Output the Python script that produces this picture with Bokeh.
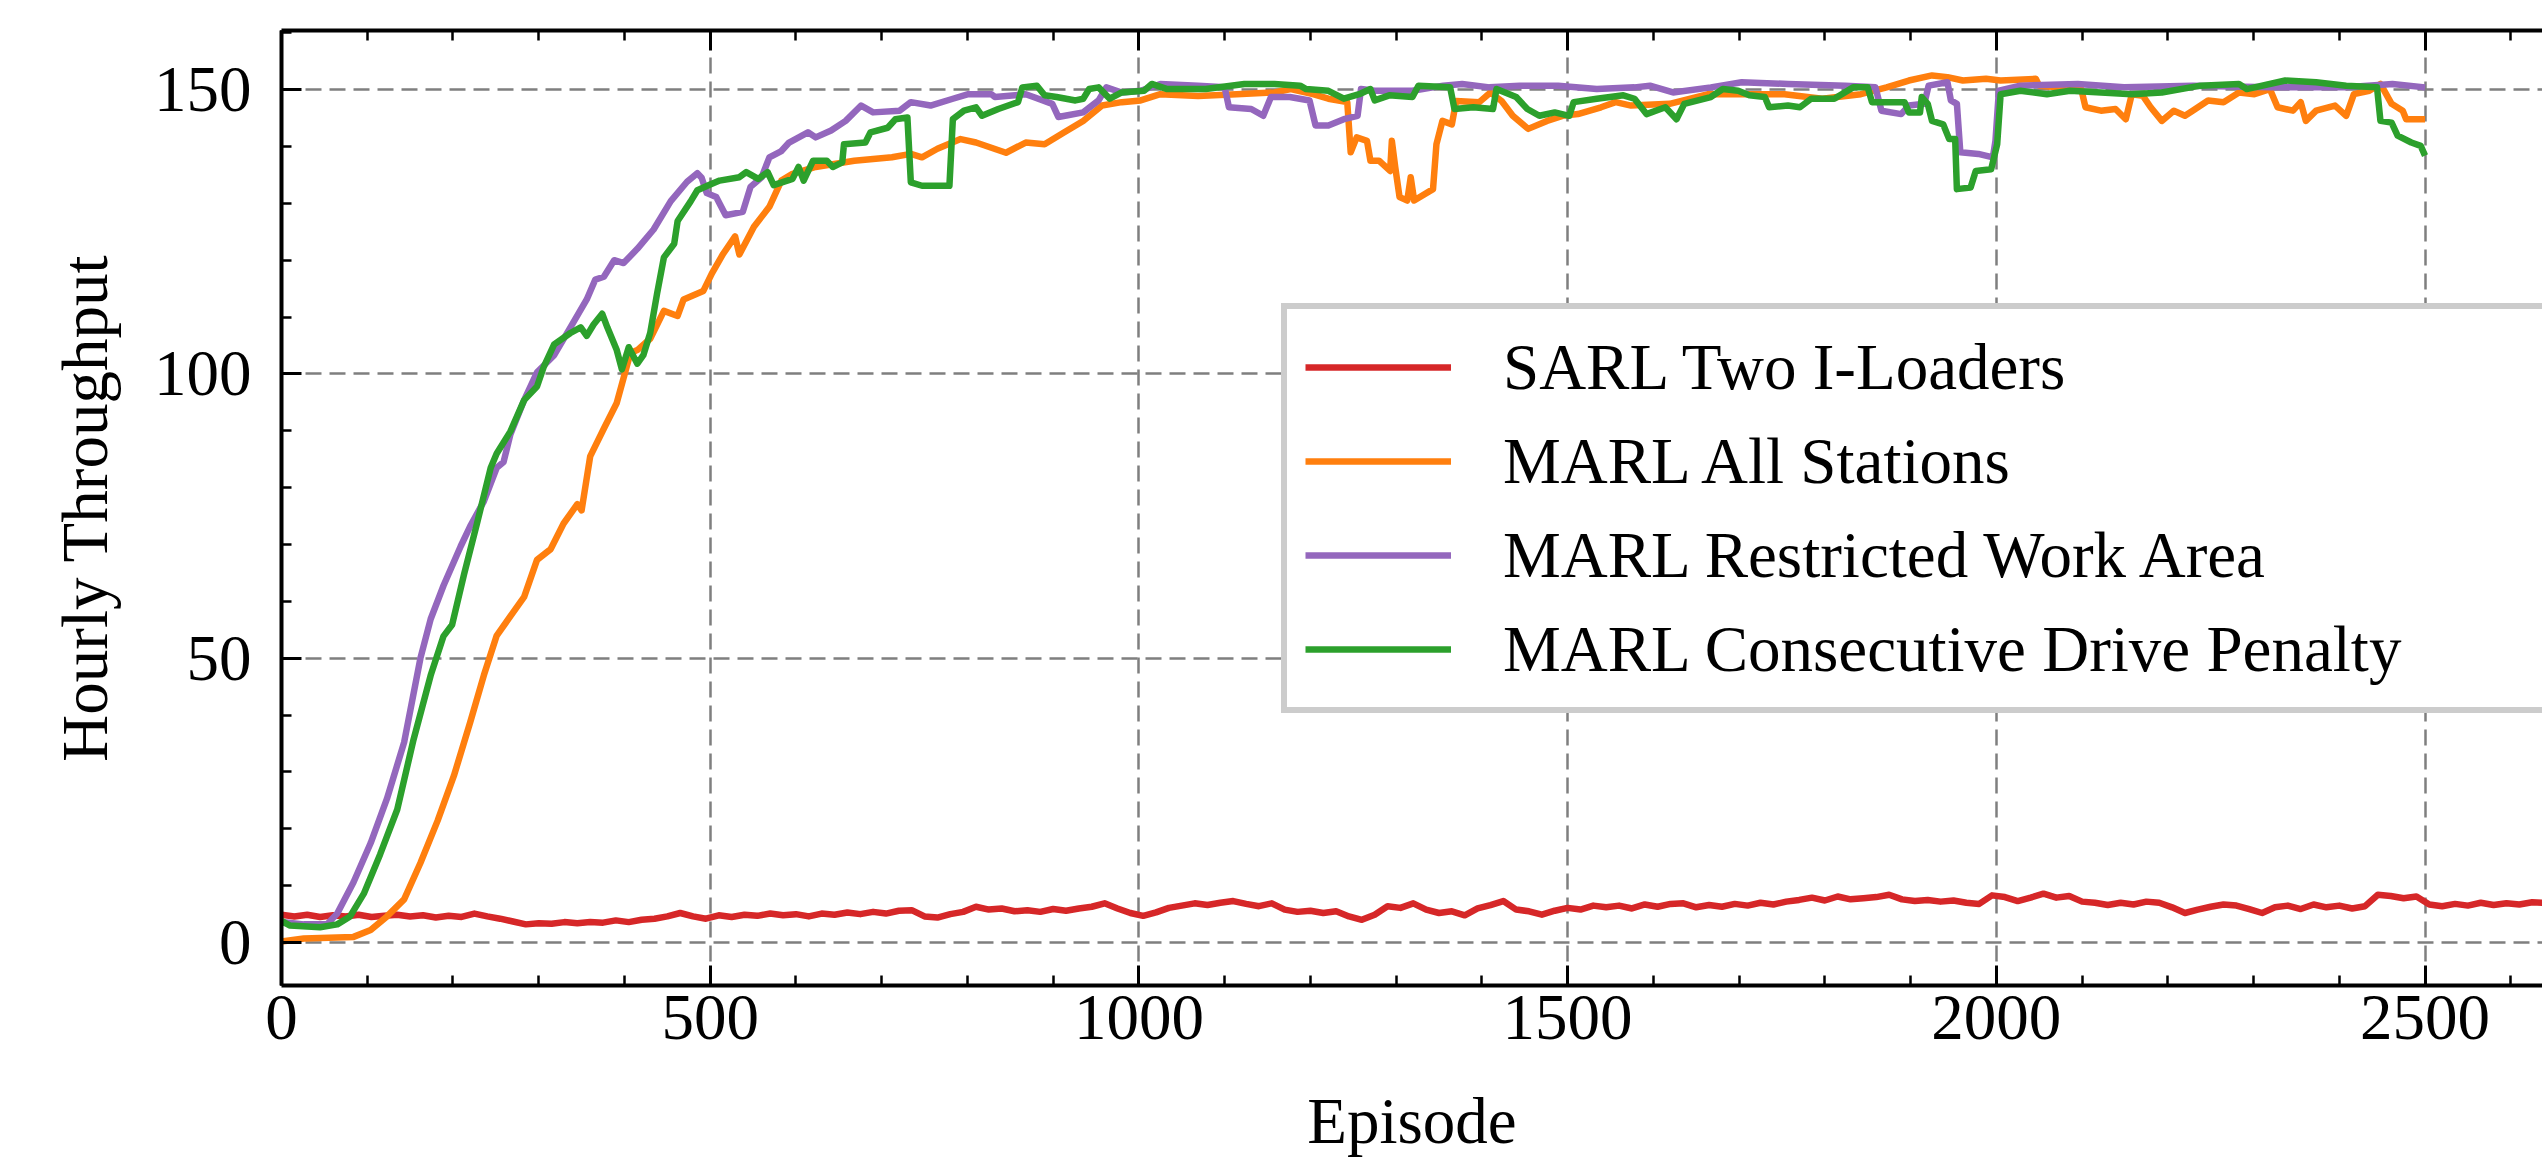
from bokeh.plotting import figure
from bokeh.models import (Range1d, LinearAxis, SingleIntervalTicker, Legend, LegendItem,
                          CustomLabelingPolicy)
from bokeh.embed import file_html
from bokeh.resources import INLINE

# ---------------- data ----------------
sarl_ep = [0, 15, 30, 45, 60, 75, 90, 105, 120, 135, 150, 165, 180, 195, 210, 225, 240, 255, 270, 285,
           300, 315, 330, 345, 360, 375, 390, 405, 420, 435, 450, 465, 480, 495, 510, 525, 540, 555, 570, 585,
           600, 615, 630, 645, 660, 675, 690, 705, 720, 735, 750, 765, 780, 795, 810, 825, 840, 855, 870, 885,
           900, 915, 930, 945, 960, 975, 990, 1005, 1020, 1035, 1050, 1065, 1080, 1095, 1110, 1125, 1140, 1155, 1170, 1185,
           1200, 1215, 1230, 1245, 1260, 1275, 1290, 1305, 1320, 1335, 1350, 1365, 1380, 1395, 1410, 1425, 1440, 1455, 1470, 1485,
           1500, 1515, 1530, 1545, 1560, 1575, 1590, 1605, 1620, 1635, 1650, 1665, 1680, 1695, 1710, 1725, 1740, 1755, 1770, 1785,
           1800, 1815, 1830, 1845, 1860, 1875, 1890, 1905, 1920, 1935, 1950, 1965, 1980, 1995, 2010, 2025, 2040, 2055, 2070, 2085,
           2100, 2115, 2130, 2145, 2160, 2175, 2190, 2205, 2220, 2235, 2250, 2265, 2280, 2295, 2310, 2325, 2340, 2355, 2370, 2385,
           2400, 2415, 2430, 2445, 2460, 2475, 2490, 2505, 2520, 2535, 2550, 2565, 2580, 2595, 2610, 2625, 2640]
sarl_val = [4.9, 4.6, 4.9, 4.5, 4.8, 4.6, 4.9, 4.5, 4.7, 4.9, 4.6, 4.8, 4.4, 4.7, 4.5, 5.1, 4.6, 4.2, 3.7, 3.2,
            3.4, 3.3, 3.6, 3.4, 3.6, 3.5, 3.9, 3.6, 4.0, 4.2, 4.6, 5.2, 4.6, 4.2, 4.8, 4.5, 4.9, 4.7, 5.1, 4.8,
            5.0, 4.6, 5.1, 4.9, 5.3, 5.0, 5.4, 5.1, 5.6, 5.7, 4.6, 4.4, 5.0, 5.4, 6.3, 5.8, 6.0, 5.5, 5.7, 5.4,
            5.9, 5.6, 6.0, 6.3, 6.9, 6.0, 5.2, 4.7, 5.3, 6.1, 6.5, 6.9, 6.6, 7.0, 7.3, 6.8, 6.4, 6.9, 5.8, 5.4,
            5.6, 5.2, 5.5, 4.6, 4.0, 4.9, 6.4, 6.1, 6.9, 5.8, 5.2, 5.5, 4.8, 6.0, 6.6, 7.3, 5.8, 5.5, 4.9, 5.6,
            6.1, 5.8, 6.5, 6.2, 6.5, 6.0, 6.7, 6.3, 6.8, 6.9, 6.2, 6.6, 6.3, 6.8, 6.5, 7.0, 6.7, 7.2, 7.5, 7.9,
            7.4, 8.1, 7.6, 7.8, 8.0, 8.4, 7.6, 7.3, 7.5, 7.2, 7.4, 7.0, 6.8, 8.3, 8.0, 7.3, 7.9, 8.6, 7.9, 8.2,
            7.2, 7.0, 6.6, 7.0, 6.7, 7.2, 7.0, 6.2, 5.2, 5.8, 6.3, 6.7, 6.5, 5.9, 5.2, 6.2, 6.5, 5.9, 6.7, 6.2,
            6.5, 6.0, 6.4, 8.4, 8.2, 7.8, 8.1, 6.7, 6.4, 6.8, 6.5, 7.0, 6.6, 6.9, 6.7, 7.1, 7.0]

all_ep = [0, 26, 84, 104, 123, 143, 162, 182, 201, 220, 236, 251, 267, 283, 298, 314, 329, 345, 350, 360,
          376, 391, 399, 407, 415, 430, 446, 462, 469, 492, 502, 515, 529, 534, 551, 569, 583, 596, 623, 668,
          712, 734, 747, 765, 792, 810, 845, 868, 890, 913, 935, 957, 980, 1002, 1025, 1069, 1114, 1158, 1177, 1203,
          1221, 1243, 1247, 1254, 1266, 1270, 1280, 1293, 1295, 1299, 1304, 1313, 1317, 1321, 1343, 1347, 1354, 1365, 1370, 1397,
          1410, 1423, 1436, 1454, 1476, 1494, 1512, 1539, 1556, 1574, 1619, 1664, 1708, 1753, 1797, 1842, 1872, 1898, 1925, 1943,
          1961, 1988, 2005, 2046, 2050, 2072, 2099, 2104, 2122, 2139, 2151, 2158, 2171, 2180, 2193, 2207, 2220, 2229, 2247, 2265,
          2283, 2301, 2319, 2328, 2346, 2355, 2361, 2373, 2395, 2408, 2417, 2435, 2448, 2461, 2474, 2478, 2500]
all_val = [0.2, 0.7, 1.0, 2.2, 4.6, 7.6, 14.0, 21.4, 29.3, 38.7, 47.0, 54.0, 57.4, 60.8, 67.3, 69.2, 73.7, 77.1, 76.0, 85.5,
           90.4, 94.9, 99.3, 103.7, 104.2, 106.2, 111.1, 110.2, 113.1, 114.6, 117.7, 121.1, 124.2, 121.0, 125.9, 129.4, 134.0, 135.2, 136.4, 137.5,
           138.1, 138.7, 138.1, 139.6, 141.3, 140.7, 138.9, 140.7, 140.4, 142.5, 144.5, 147.2, 147.8, 148.1, 149.2, 148.9, 149.2, 149.5, 150.1, 149.2,
           148.4, 147.8, 139.0, 141.6, 141.0, 137.5, 137.5, 135.7, 141.0, 136.3, 131.1, 130.5, 134.6, 130.5, 132.5, 140.4, 144.5, 143.9, 148.0, 147.8,
           149.5, 148.0, 145.4, 143.1, 144.5, 145.4, 145.7, 146.9, 147.8, 147.2, 147.5, 149.2, 149.2, 149.2, 148.4, 149.2, 150.4, 151.6, 152.5, 152.2,
           151.6, 151.9, 151.6, 151.9, 150.7, 150.4, 150.1, 146.9, 146.3, 146.6, 144.8, 149.2, 148.9, 146.9, 144.5, 146.3, 145.4, 146.3, 148.1, 147.8,
           149.5, 149.2, 150.1, 146.9, 146.3, 147.8, 144.5, 146.3, 147.2, 145.4, 149.2, 149.8, 151.0, 147.5, 146.3, 144.8, 144.8]

rwa_ep = [0, 26, 53, 65, 84, 104, 123, 143, 162, 174, 189, 209, 220, 236, 251, 259, 267, 283, 298, 318,
          337, 356, 366, 376, 388, 399, 415, 434, 454, 473, 485, 490, 496, 507, 518, 538, 547, 560, 569, 583,
          592, 614, 623, 641, 658, 676, 690, 721, 734, 757, 783, 801, 828, 832, 868, 877, 899, 906, 917, 935,
          953, 962, 980, 1002, 1025, 1069, 1100, 1105, 1131, 1145, 1154, 1176, 1199, 1206, 1221, 1239, 1255, 1259, 1275, 1319,
          1355, 1377, 1409, 1444, 1489, 1534, 1578, 1596, 1623, 1667, 1703, 1757, 1824, 1859, 1866, 1889, 1898, 1916, 1921, 1943,
          1947, 1954, 1958, 1979, 1996, 1999, 2003, 2028, 2095, 2149, 2229, 2319, 2408, 2462, 2500]
rwa_val = [3.6, 3.2, 3.2, 5.1, 10.6, 17.5, 25.3, 35.2, 50.0, 56.9, 62.8, 69.7, 73.2, 77.6, 83.5, 84.5, 89.4, 95.4, 100.3, 103.3,
           108.2, 113.1, 116.6, 117.1, 120.0, 119.5, 122.0, 125.4, 130.4, 133.8, 135.3, 134.5, 131.8, 131.1, 127.9, 128.5, 132.9, 134.6, 138.1, 139.2,
           140.7, 142.5, 141.6, 142.8, 144.5, 147.2, 146.0, 146.3, 147.8, 147.2, 148.4, 149.2, 149.2, 148.7, 149.2, 148.7, 147.5, 145.2, 145.5, 146.0,
           148.1, 150.4, 149.5, 149.8, 151.0, 150.7, 150.4, 146.9, 146.6, 145.4, 148.7, 148.7, 148.1, 143.7, 143.7, 144.8, 145.4, 150.1, 149.8, 149.8,
           150.7, 151.0, 150.4, 150.7, 150.7, 150.1, 150.4, 150.7, 149.5, 150.4, 151.3, 151.0, 150.7, 150.4, 146.3, 145.7, 147.2, 147.5, 150.7, 151.3,
           148.1, 147.5, 139.0, 138.7, 138.1, 141.0, 149.8, 150.7, 151.0, 150.4, 150.7, 150.4, 150.4, 151.0, 150.4]

cdp_ep = [0, 10, 45, 65, 80, 96, 115, 135, 154, 174, 189, 199, 213, 228, 244, 251, 267, 283, 298, 306,
          318, 337, 349, 356, 364, 374, 380, 391, 397, 405, 415, 422, 430, 438, 446, 458, 462, 477, 485, 500,
          511, 534, 542, 556, 567, 574, 596, 603, 609, 620, 636, 643, 654, 656, 681, 687, 707, 716, 730, 734,
          747, 765, 779, 783, 796, 810, 817, 836, 859, 864, 881, 890, 904, 926, 935, 942, 953, 966, 980, 1006,
          1015, 1033, 1078, 1123, 1158, 1188, 1195, 1221, 1239, 1257, 1270, 1275, 1292, 1319, 1326, 1363, 1368, 1390, 1413, 1417,
          1440, 1453, 1467, 1485, 1502, 1507, 1534, 1565, 1578, 1592, 1614, 1627, 1636, 1667, 1681, 1699, 1712, 1730, 1735, 1757,
          1771, 1784, 1811, 1833, 1850, 1855, 1876, 1893, 1898, 1911, 1913, 1920, 1925, 1938, 1945, 1952, 1954, 1970, 1976, 1994,
          2001, 2005, 2028, 2059, 2086, 2122, 2158, 2193, 2238, 2283, 2292, 2337, 2373, 2408, 2444, 2448, 2461, 2468, 2484, 2495, 2500]
cdp_val = [3.8, 3.0, 2.7, 3.2, 4.6, 8.6, 15.5, 23.4, 35.7, 47.0, 53.9, 55.9, 64.8, 73.7, 83.5, 86.0, 89.9, 95.4, 97.8, 101.3,
           105.2, 107.2, 108.2, 106.7, 108.7, 110.6, 108.2, 104.2, 100.8, 104.7, 101.8, 103.3, 107.2, 114.1, 120.5, 122.9, 126.9, 130.3, 132.3, 133.3,
           134.0, 134.6, 135.5, 134.3, 135.5, 133.2, 134.3, 136.4, 134.0, 137.5, 137.5, 136.4, 137.2, 140.4, 140.7, 142.5, 143.3, 144.8, 145.1, 133.7,
           133.1, 133.1, 133.1, 144.8, 146.3, 146.9, 145.4, 146.6, 147.8, 150.4, 150.7, 149.0, 148.7, 148.1, 148.4, 150.1, 150.4, 148.4, 149.5, 149.8,
           151.0, 150.1, 150.1, 151.0, 151.0, 150.7, 150.1, 149.8, 148.4, 149.2, 150.1, 148.1, 149.0, 148.7, 150.7, 150.4, 146.6, 146.9, 146.6, 150.1,
           148.7, 146.6, 145.4, 146.0, 145.4, 147.8, 148.4, 149.0, 148.4, 145.7, 146.9, 144.8, 147.5, 148.7, 150.1, 149.8, 149.0, 148.7, 146.9, 147.2,
           146.9, 148.4, 148.4, 150.4, 150.4, 147.8, 147.8, 147.8, 146.0, 146.0, 148.7, 147.5, 144.5, 143.9, 141.3, 141.3, 132.5, 132.8, 135.7, 136.0,
           140.4, 149.2, 149.8, 149.2, 149.8, 149.5, 149.2, 149.5, 150.7, 151.0, 150.1, 151.6, 151.3, 150.7, 150.4, 144.5, 144.2, 141.9, 140.7, 140.1, 138.4]

series_labels = ["SARL Two I-Loaders", "MARL All Stations",
                 "MARL Restricted Work Area", "MARL Consecutive Drive Penalty"]
series_colors = ["#d62728", "#ff7f0e", "#9467bd", "#2ca02c"]

x_ticks_interval = 500
y_ticks_interval = 50

# ---------------- figure ----------------
FONT = "Liberation Serif"
FS = "65px"

p = figure(width=2542, height=1159, output_backend="svg", toolbar_location=None,
           x_range=Range1d(0, 2637), y_range=Range1d(-7.55, 160.4),
           min_border_left=281, min_border_right=0, min_border_top=30, min_border_bottom=173,
           x_axis_label="Episode", y_axis_label="Hourly Throughput")
p.outline_line_color = None
p.background_fill_color = "white"
p.border_fill_color = "white"

xt = SingleIntervalTicker(interval=x_ticks_interval, num_minor_ticks=5)
yt = SingleIntervalTicker(interval=y_ticks_interval, num_minor_ticks=5)
p.xaxis.ticker = xt
p.yaxis.ticker = yt
p.xgrid.ticker = xt
p.ygrid.ticker = yt

for ax in (p.xaxis[0], p.yaxis[0]):
    ax.axis_line_width = 4
    ax.axis_line_color = "black"
    ax.major_tick_in = 20
    ax.major_tick_out = 0
    ax.minor_tick_in = 10
    ax.minor_tick_out = 0
    ax.major_tick_line_width = 3
    ax.minor_tick_line_width = 2.5
    ax.major_label_text_font = FONT
    ax.major_label_text_font_size = FS
    ax.major_label_text_color = "black"
    ax.axis_label_text_font = FONT
    ax.axis_label_text_font_size = FS
    ax.axis_label_text_font_style = "normal"
    ax.axis_label_text_color = "black"

p.xaxis.major_label_standoff = 10
p.xaxis.axis_label_standoff = 43
p.yaxis.major_label_standoff = 30
p.yaxis.axis_label_standoff = 30

top = LinearAxis(ticker=xt, axis_line_width=4, major_tick_in=20, major_tick_out=0,
                 minor_tick_in=10, minor_tick_out=0, major_tick_line_width=3,
                 minor_tick_line_width=2.5, major_label_text_font_size="1px",
                 major_label_standoff=0,
                 major_label_policy=CustomLabelingPolicy(code="return new Set()"))
p.add_layout(top, "above")

for g in (p.xgrid[0], p.ygrid[0]):
    g.grid_line_color = "#7f7f7f"
    g.grid_line_width = 2.5
    g.grid_line_dash = "16 8"

renderers = []
for xs, ys, c in ((sarl_ep, sarl_val, series_colors[0]), (all_ep, all_val, series_colors[1]),
                  (rwa_ep, rwa_val, series_colors[2]), (cdp_ep, cdp_val, series_colors[3])):
    renderers.append(p.line(xs, ys, line_width=6.5, line_color=c, line_join="round"))

legend = Legend(items=[LegendItem(label=l, renderers=[r]) for l, r in zip(series_labels, renderers)],
                location=(1000, 272), orientation="vertical",
                label_text_font=FONT, label_text_font_size=FS, label_text_color="black",
                glyph_width=146, glyph_height=80, label_height=80, label_standoff=52,
                label_width=1100, padding=18, spacing=14, margin=0,
                border_line_color="#cccccc", border_line_width=6, border_line_alpha=1,
                background_fill_color="white", background_fill_alpha=1)
p.add_layout(legend, "center")

open("out.html", "w").write(file_html(p, INLINE))
